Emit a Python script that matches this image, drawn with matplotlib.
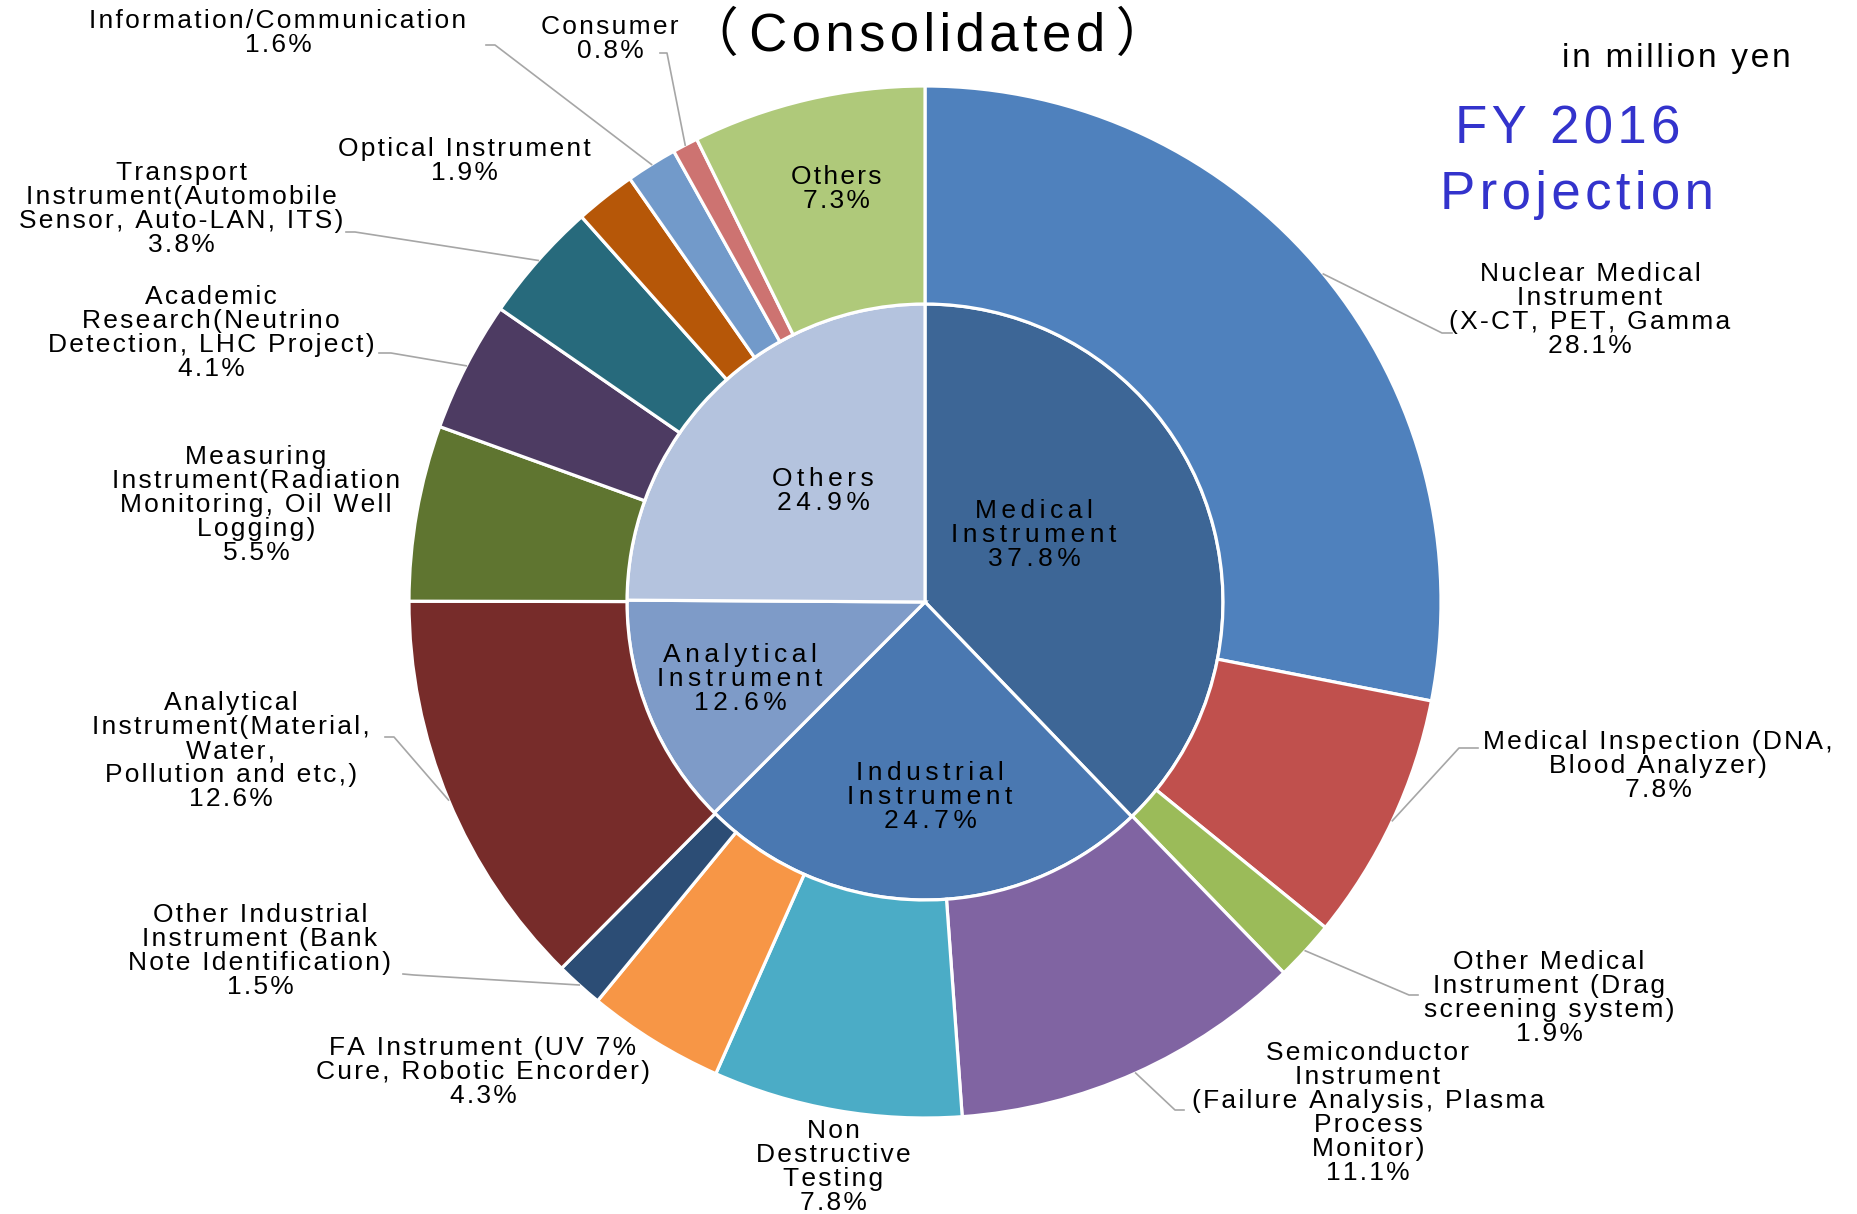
import numpy as np
import matplotlib
matplotlib.use('Agg')
import matplotlib.pyplot as plt

# --- data (percent of consolidated sales, FY2016 projection) ---
inner_names = ['Medical\nInstrument', 'Industrial\nInstrument', 'Analytical\nInstrument', 'Others']
inner_pct = [37.8, 24.7, 12.6, 24.9]
inner_colors = ['#3D6696', '#4A78B1', '#7E9BC8', '#B4C3DE']

outer_names = [
    'Nuclear Medical\nInstrument\n(X-CT, PET, Gamma',
    'Medical Inspection (DNA,\nBlood Analyzer)',
    'Other Medical\nInstrument (Drag\nscreening system)',
    'Semiconductor\nInstrument\n(Failure Analysis, Plasma\nProcess\nMonitor)',
    'Non\nDestructive\nTesting',
    'FA Instrument (UV 7%\nCure, Robotic Encorder)',
    'Other Industrial\nInstrument (Bank\nNote Identification)',
    'Analytical\nInstrument(Material,\nWater,\nPollution and etc,)',
    'Measuring\nInstrument(Radiation\nMonitoring, Oil Well\nLogging)',
    'Academic\nResearch(Neutrino\nDetection, LHC Project)',
    'Transport\nInstrument(Automobile\nSensor, Auto-LAN, ITS)',
    'Optical Instrument',
    'Information/Communication',
    'Consumer',
    'Others',
]
outer_pct = [28.1, 7.8, 1.9, 11.1, 7.8, 4.3, 1.5, 12.6, 5.5, 4.1, 3.8, 1.9, 1.6, 0.8, 7.3]
outer_colors = ['#4F81BD', '#C0504D', '#9BBB59', '#8064A2', '#4BACC6', '#F79646', '#2C4D75',
                '#772C2A', '#5F7530', '#4D3B62', '#276A7C', '#B65708', '#729ACA', '#CD7371', '#AFC97A']

# --- layout (figure pixels, y measured from the top) ---
W, H = 1857, 1214
cx, cy = 925, 602
r_out, r_in = 516, 298

inner_text_pos = [(1034, 535), (930, 797), (740, 679), (823, 491)]
outer_text_pos = [(1590, 310), (1658, 766), (1549, 998), (1368, 1113), (833, 1167),
                  (483, 1072), (260, 951), (231, 751), (256, 505), (211, 333),
                  (181, 209), (464, 161), (278, 33), (610, 39), (836, 189)]
# leader lines: (elbow, end) or None
leaders = [((1442, 333), (1452, 333)), ((1459, 748), (1478, 748)), ((1409, 995), (1418, 995)),
           ((1175, 1110), (1184, 1110)), None, None, ((414, 975), (403, 974)),
           ((394, 737), (385, 737)), None, ((391, 353), (379, 353)), ((355, 232), (346, 232)),
           None, ((495, 45), (486, 45)), ((667, 53), (660, 53)), None]


def spaced(s, gap='\u200a'):
    return '\n'.join(gap.join(line) for line in s.split('\n'))


def P(x, y):
    return x, H - y


lbl_font = ['Liberation Sans', 'DejaVu Sans']
lbl_size = 19
lbl_ls = 1.0

fig = plt.figure(figsize=(W / 100, H / 100), dpi=100)
ax = fig.add_axes([0, 0, 1, 1])

wp = dict(edgecolor='white', linewidth=2.3)
ax.pie(inner_pct, radius=r_in, center=P(cx, cy), colors=inner_colors,
       startangle=90, counterclock=False, wedgeprops=wp, frame=True)
outer_wedges, _ = ax.pie(outer_pct, radius=r_out, center=P(cx, cy), colors=outer_colors,
                         startangle=90, counterclock=False,
                         wedgeprops=dict(width=r_out - r_in, **wp), frame=True)

for name, pct, pos in zip(inner_names, inner_pct, inner_text_pos):
    ax.text(*P(*pos), spaced(f'{name}\n{pct:.1f}%', '\u200a\u200a'), ha='center', va='center',
            ma='center', fontsize=lbl_size, family=lbl_font, linespacing=lbl_ls, color='black')

for w, name, pct, pos, ld in zip(outer_wedges, outer_names, outer_pct, outer_text_pos, leaders):
    ax.text(*P(*pos), spaced(f'{name}\n{pct:.1f}%'), ha='center', va='center',
            ma='center', fontsize=lbl_size, family=lbl_font, linespacing=lbl_ls, color='black')
    if ld is not None:
        ang = np.deg2rad((w.theta1 + w.theta2) / 2)
        x0 = cx + r_out * np.cos(ang)
        y0 = cy - r_out * np.sin(ang)
        xs = [x0, ld[0][0], ld[1][0]]
        ys = [H - y0, H - ld[0][1], H - ld[1][1]]
        ax.plot(xs, ys, color='#A6A6A6', linewidth=1.2, zorder=1)

ax.text(*P(927, 37), '（\u2009' + spaced('Consolidated') + '\u2009）', ha='center', va='center',
        fontsize=38, family=['Liberation Sans', 'Noto Sans CJK JP'])
ax.text(*P(1676, 58), spaced('in million yen'), ha='center', va='center',
        fontsize=24, family=lbl_font)
ax.text(*P(1568, 129), spaced('FY 2016'), ha='center', va='center',
        fontsize=38, color='#3333CC', family=lbl_font)
ax.text(*P(1577, 195), spaced('Projection'), ha='center', va='center',
        fontsize=38, color='#3333CC', family=lbl_font)

ax.set_xlim(0, W)
ax.set_ylim(0, H)
ax.set_aspect('equal')
ax.axis('off')

fig.savefig('out.png', dpi=100)
